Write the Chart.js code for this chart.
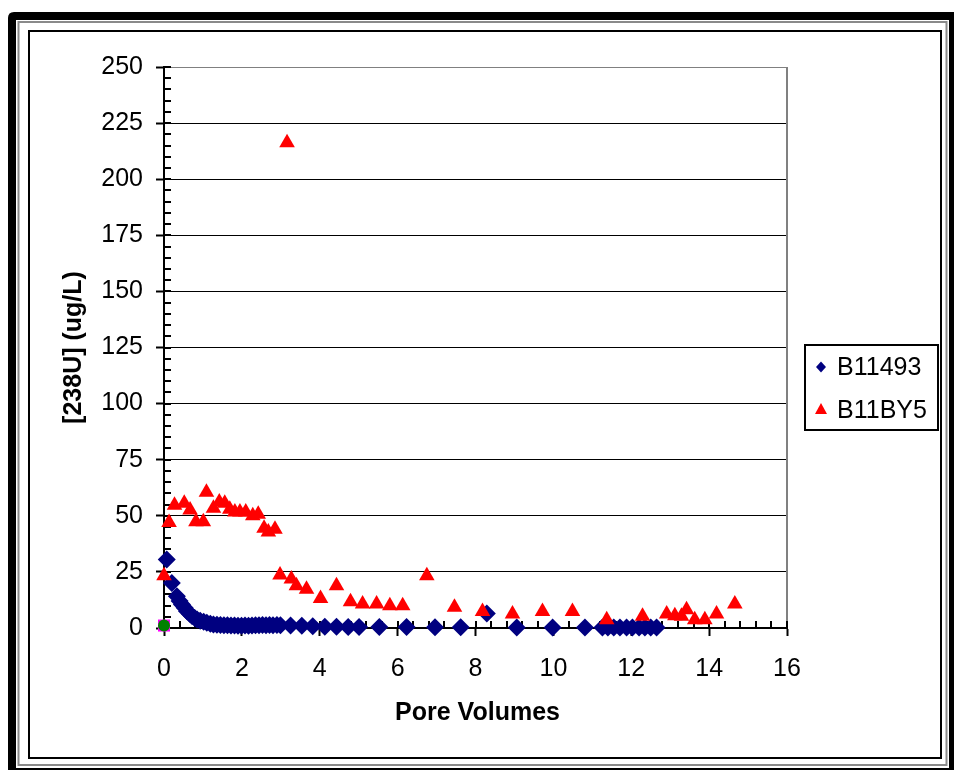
<!DOCTYPE html>
<html><head><meta charset="utf-8">
<script src="https://cdn.jsdelivr.net/npm/chart.js@4"></script>
<style>html,body{margin:0;padding:0;background:#fff;overflow:hidden}canvas{display:block}</style>
</head><body>
<canvas id="c" width="954" height="770"></canvas>
<script>
// ---- data ----
const seriesNames = ['B11493', 'B11BY5'];
const xTitle = 'Pore Volumes';
const yTitle = '[238U] (ug/L)';
const xTickValues = [0, 2, 4, 6, 8, 10, 12, 14, 16];
const yTickValues = [0, 25, 50, 75, 100, 125, 150, 175, 200, 225, 250];

const b11493X = [0.07, 0.2, 0.33, 0.4, 0.46, 0.53, 0.59, 0.66, 0.72, 0.79, 0.85, 0.93, 1.02, 1.1, 1.19, 1.27, 1.36, 1.45, 1.54, 1.63, 1.72, 1.81, 1.9, 1.99, 2.08, 2.17, 2.26, 2.35, 2.44, 2.53, 2.62, 2.71, 2.8, 2.9, 2.99, 3.25, 3.54, 3.82, 4.13, 4.43, 4.73, 5.01, 5.53, 6.23, 6.96, 7.62, 8.29, 9.06, 9.98, 10.81, 11.26, 11.4, 11.55, 11.71, 11.88, 12.03, 12.2, 12.35, 12.5, 12.65];
const b11493Y = [30.5, 20, 14.2, 12, 10.5, 9, 7.5, 6.3, 5.3, 4.5, 3.8, 3.2, 2.8, 2.3, 1.9, 1.6, 1.4, 1.3, 1.2, 1.2, 1.1, 1.1, 1.0, 1.0, 1.1, 1.0, 1.1, 1.2, 1.2, 1.3, 1.2, 1.3, 1.2, 1.3, 1.2, 1.1, 1.0, 0.8, 0.6, 0.6, 0.5, 0.5, 0.4, 0.4, 0.3, 0.3, 6.5, 0.2, 0.2, 0.2, 0.2, 0.2, 0.2, 0.2, 0.2, 0.2, 0.2, 0.2, 0.2, 0.2];

const b11by5X = [0, 0.13, 0.27, 0.52, 0.67, 0.82, 1.01, 1.09, 1.27, 1.42, 1.56, 1.69, 1.82, 1.95, 2.1, 2.28, 2.42, 2.57, 2.68, 2.85, 2.98, 3.16, 3.27, 3.4, 3.66, 4.02, 4.43, 4.79, 5.1, 5.46, 5.8, 6.13, 6.75, 7.46, 8.18, 8.95, 9.72, 10.49, 11.37, 12.29, 12.91, 13.12, 13.29, 13.42, 13.63, 13.89, 14.19, 14.66];
const b11by5Y = [23.3, 47, 54.7, 55.6, 52.6, 47.3, 47.3, 60.5, 53.4, 56.2, 55.6, 52.9, 51.7, 51.7, 51.7, 50, 50.7, 44.5, 42.8, 44, 23.6, 216.2, 21.8, 18.8, 17.3, 13.2, 18.8, 11.7, 10.7, 10.7, 9.9, 9.9, 23.3, 9.2, 7.3, 6.2, 7.3, 7.3, 3.7, 5.2, 6.2, 5.5, 5.2, 8.1, 3.7, 3.7, 6.2, 10.7];

const controlX = [0];
const controlY = [1.1];

// ---- styles ----
const FONT = 'Arial, "Liberation Sans", Helvetica, sans-serif';
const FS = 25;
const NAVY = '#000080', RED = '#ff0000';
const toPts = (xs, ys) => xs.map((x, i) => ({x: x, y: ys[i]}));

const decor = {
  id: 'decor',
  beforeDraw(chart) {
    const ctx = chart.ctx;
    ctx.save();
    ctx.fillStyle = '#fff';
    ctx.fillRect(0, 0, chart.width, chart.height);
    ctx.fillStyle = '#000';
    ctx.beginPath();
    ctx.moveTo(8, 18); ctx.quadraticCurveTo(8, 12, 14, 12);
    ctx.lineTo(960, 12); ctx.lineTo(960, 780); ctx.lineTo(8, 780); ctx.closePath();
    ctx.fill();
    ctx.fillStyle = '#fff';
    ctx.fillRect(16, 20, 933, 748);
    ctx.strokeStyle = '#8a8a8a'; ctx.lineWidth = 2;
    ctx.strokeRect(18.5, 22, 928, 743);
    ctx.strokeStyle = '#000'; ctx.lineWidth = 2;
    ctx.strokeRect(29, 31, 912, 727);
    ctx.restore();
  },
  beforeDatasetsDraw(chart) {
    const ctx = chart.ctx, a = chart.chartArea;
    const xs = chart.scales.x, ys = chart.scales.y;
    ctx.save();
    ctx.strokeStyle = '#808080'; ctx.lineWidth = 2;
    ctx.beginPath(); ctx.moveTo(a.right, a.top); ctx.lineTo(a.right, a.bottom); ctx.stroke();
    ctx.strokeStyle = '#000'; ctx.lineWidth = 2;
    ctx.beginPath();
    for (let i = 0; i <= 50; i++) {
      const py = Math.round(ys.getPixelForValue(i * 5));
      ctx.moveTo(a.left, py); ctx.lineTo(a.left + 7, py);
    }
    for (let i = 0; i <= 40; i++) {
      const px = Math.round(xs.getPixelForValue(i * 0.4));
      ctx.moveTo(px, a.bottom); ctx.lineTo(px, a.bottom - 7);
    }
    ctx.stroke();
    ctx.restore();
  },
  afterDraw(chart) {
    const ctx = chart.ctx, a = chart.chartArea;
    ctx.save();
    ctx.fillStyle = '#000';
    ctx.font = 'bold ' + FS + 'px ' + FONT;
    ctx.textAlign = 'center'; ctx.textBaseline = 'middle';
    ctx.fillText(xTitle, (a.left + a.right) / 2 + 2, 713);
    ctx.translate(74, (a.top + a.bottom) / 2);
    ctx.rotate(-Math.PI / 2);
    ctx.fillText(yTitle, 0, 0);
    ctx.restore();
    // legend
    ctx.save();
    ctx.fillStyle = '#fff'; ctx.fillRect(805, 345, 133, 85);
    ctx.strokeStyle = '#000'; ctx.lineWidth = 2; ctx.strokeRect(805, 345, 133, 85);
    const rows = [367, 410];
    chart.data.datasets.slice(0, 2).forEach((ds, i) => {
      const y = rows[i], x = 821;
      ctx.fillStyle = ds.backgroundColor;
      ctx.beginPath();
      if (ds.pointStyle === 'rectRot') {
        ctx.moveTo(x - 5, y); ctx.lineTo(x, y - 5.5); ctx.lineTo(x + 5, y); ctx.lineTo(x, y + 5.5);
      } else {
        ctx.moveTo(x, y - 7); ctx.lineTo(x + 6, y + 4); ctx.lineTo(x - 6, y + 4);
      }
      ctx.closePath(); ctx.fill();
      ctx.fillStyle = '#000';
      ctx.font = FS + 'px ' + FONT;
      ctx.textAlign = 'left'; ctx.textBaseline = 'middle';
      ctx.fillText(ds.label, 837, y + 1);
    });
    ctx.restore();
  }
};

new Chart(document.getElementById('c'), {
  type: 'scatter',
  data: {
    datasets: [
      {label: seriesNames[0], data: toPts(b11493X, b11493Y), pointStyle: 'rectRot', pointRadius: 9,
       backgroundColor: NAVY, borderColor: NAVY, borderWidth: 0, order: 2, clip: false},
      {label: seriesNames[1], data: toPts(b11by5X, b11by5Y), pointStyle: 'triangle', pointRadius: 9,
       backgroundColor: RED, borderColor: RED, borderWidth: 0, order: 1, clip: false},
      {label: 'ctrl-bg', data: toPts(controlX, controlY), pointStyle: 'rect', pointRadius: 8.5,
       backgroundColor: '#ff00ff', borderColor: '#ff00ff', borderWidth: 0, order: 0, clip: false},
      {label: 'ctrl', data: toPts(controlX, controlY), pointStyle: 'circle', pointRadius: 6,
       backgroundColor: '#008000', borderColor: '#008000', borderWidth: 0, order: -1, clip: false}
    ]
  },
  options: {
    responsive: false, animation: false, devicePixelRatio: 1,
    layout: {padding: {left: 0, top: 67, right: 954 - 787, bottom: 0}},
    plugins: {legend: {display: false}, tooltip: {enabled: false}},
    scales: {
      x: {
        type: 'linear', position: 'bottom', min: 0, max: 16,
        afterBuildTicks(s) { s.ticks = xTickValues.map(v => ({value: v})); },
        ticks: {font: {family: FONT, size: FS}, color: '#000', padding: 18, maxRotation: 0, autoSkip: false},
        grid: {drawOnChartArea: false, drawTicks: true, tickLength: 8, tickColor: '#000', tickWidth: 2},
        border: {color: '#000', width: 2},
        afterFit(s) { s.height = 770 - 628; }
      },
      y: {
        type: 'linear', min: 0, max: 250,
        afterBuildTicks(s) { s.ticks = yTickValues.map(v => ({value: v})); },
        ticks: {font: {family: FONT, size: FS}, color: '#000', padding: 13, autoSkip: false},
        grid: {color: c => (c.tick && c.tick.value === 250) ? '#808080' : '#000', lineWidth: 1,
               drawTicks: true, tickLength: 8, tickColor: '#000', tickWidth: 2},
        border: {color: '#000', width: 2},
        afterFit(s) { s.width = 164; }
      }
    }
  },
  plugins: [decor]
});
</script>
</body></html>
